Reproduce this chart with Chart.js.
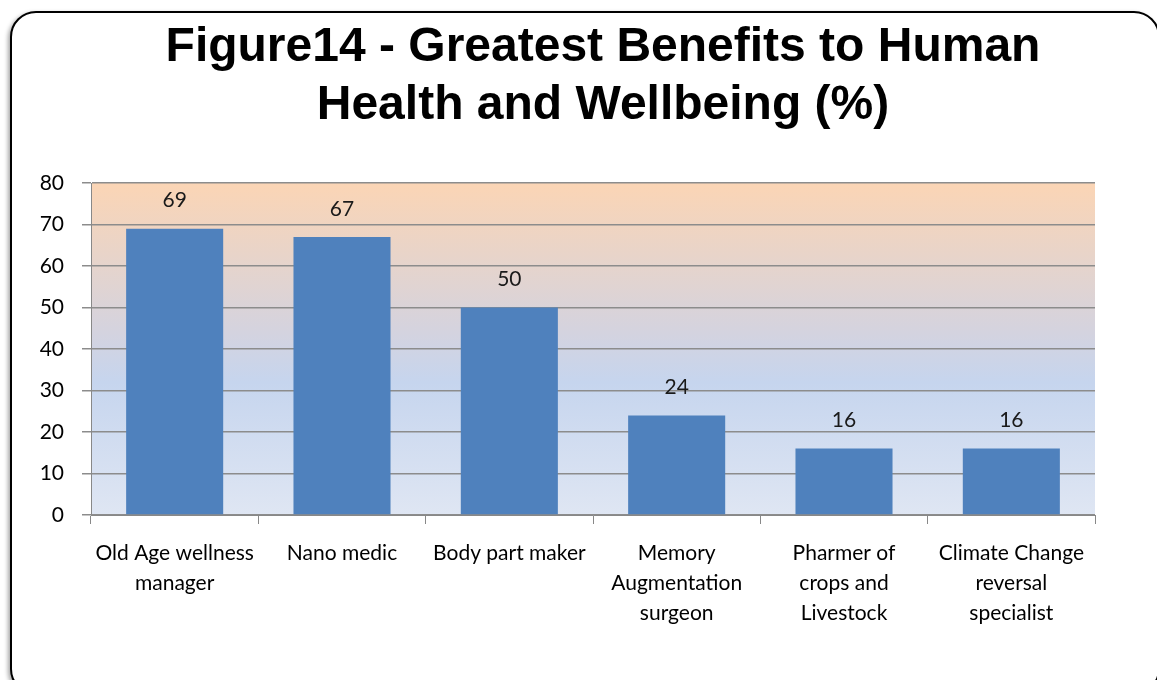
<!DOCTYPE html>
<html>
<head>
<meta charset="utf-8">
<script src="https://cdn.jsdelivr.net/npm/chart.js@4/dist/chart.umd.min.js"></script>
<style>
  html, body { margin: 0; padding: 0; background: #fff; overflow: hidden; }
  #frame {
    position: absolute; left: 10px; top: 11px; width: 1146px; height: 680px;
    border: 2px solid #000; border-radius: 26px;
    box-shadow: -2px 2px 4px rgba(0,0,0,0.35);
    background: #fff;
  }
  #chart { position: absolute; left: 0; top: 0; }
</style>
</head>
<body>
<div id="frame"></div>
<canvas id="chart" width="1157" height="680"></canvas>
<script>
// ───────────────────────── DATA ─────────────────────────
const categories = [
    ["Old Age wellness", "manager"],
    ["Nano medic"],
    ["Body part maker"],
    ["Memory", "Augmentation", "surgeon"],
    ["Pharmer of", "crops and", "Livestock"],
    ["Climate Change", "reversal", "specialist"]
];
const values     = [69, 67, 50, 24, 16, 16];
const yTicks     = [0, 10, 20, 30, 40, 50, 60, 70, 80];
const titleLines = ["Figure14 - Greatest Benefits to Human", "Health and Wellbeing (%)"];

// ───────────────────────── PLUGINS ─────────────────────────
// gradient fill behind the plot area
const plotBackground = {
    id: "plotBackground",
    beforeDraw(chart) {
        const { ctx, chartArea: a } = chart;
        const g = ctx.createLinearGradient(0, a.top, 0, a.bottom);
        g.addColorStop(0,    "#fbd5b5");
        g.addColorStop(0.45, "#d4d3df");
        g.addColorStop(0.6,  "#c6d5ee");
        g.addColorStop(1,    "#dfe6f3");
        ctx.save();
        ctx.fillStyle = g;
        ctx.fillRect(a.left, a.top, a.right - a.left, a.bottom - a.top);
        ctx.restore();
    }
};

// two-line bold title, centred a little right of the plot (as in the original)
const bigTitle = {
    id: "bigTitle",
    afterDraw(chart) {
        const { ctx } = chart;
        ctx.save();
        ctx.font = "bold 48px 'Liberation Sans'";
        ctx.fillStyle = "#000";
        ctx.textAlign = "center";
        ctx.textBaseline = "alphabetic";
        titleLines.forEach((line, i) => ctx.fillText(line, 603, 61 + i * 58));
        ctx.restore();
    }
};

// value labels above each bar
const barValues = {
    id: "barValues",
    afterDatasetsDraw(chart) {
        const { ctx } = chart;
        const meta = chart.getDatasetMeta(0);
        ctx.save();
        ctx.font = "21px Lato";
        ctx.fillStyle = "#1a1a1a";
        ctx.textAlign = "center";
        ctx.textBaseline = "middle";
        meta.data.forEach((bar, i) => {
            ctx.fillText(String(values[i]), bar.x, bar.y - 28);
        });
        ctx.restore();
    }
};

// ───────────────────────── CHART ─────────────────────────
const ctx = document.getElementById("chart").getContext("2d");
new Chart(ctx, {
    type: "bar",
    data: {
        labels: categories,
        datasets: [{
            data:               values,
            backgroundColor:    "#4f81bd",
            borderWidth:        0,
            categoryPercentage: 1,
            barPercentage:      0.58
        }]
    },
    options: {
        responsive: false,
        animation:  false,
        layout: { padding: { top: 183, left: 20, right: 62, bottom: 30 } },
        scales: {
            x: {
                grid:   { offset: true, drawOnChartArea: false, color: "#888", tickLength: 9 },
                border: { color: "#888", width: 1 },
                ticks:  { color: "#000", font: { family: "Lato", size: 21, lineHeight: 1.43 }, padding: 14, maxRotation: 0, autoSkip: false },
                afterFit(scale) { scale.height = 135; }
            },
            y: {
                min: 0, max: 80,
                afterBuildTicks(scale) { scale.ticks = yTicks.map(v => ({ value: v })); },
                grid:   { color: "#8c8c8c", tickLength: 9, lineWidth: 1.5 },
                border: { color: "#888", width: 1 },
                ticks:  { color: "#000", font: { family: "Lato", size: 21 }, padding: 18 },
                afterFit(scale) { scale.width = 71; }
            }
        },
        plugins: {
            legend:  { display: false },
            tooltip: { enabled: false },
            title:   { display: false }
        }
    },
    plugins: [plotBackground, barValues, bigTitle]
});
</script>
</body>
</html>
